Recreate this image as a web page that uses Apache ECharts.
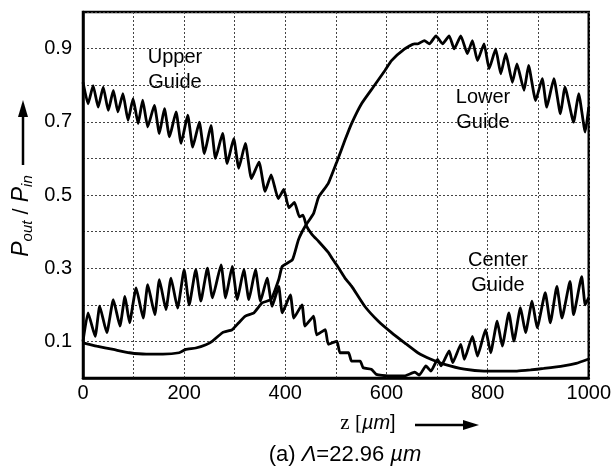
<!DOCTYPE html>
<html>
<head>
<meta charset="utf-8">
<script src="https://cdn.jsdelivr.net/npm/echarts@6/dist/echarts.min.js"></script>
<style>
  html, body { margin: 0; padding: 0; background: #fff; }
  #myChart { width: 614px; height: 468px; }
</style>
</head>
<body>
<div id="myChart"></div>
<script>
// values: z in um, P_out/P_in
const upperZ = [0, 10, 20, 30, 40, 50, 60, 69, 79, 89, 99, 109, 118, 128, 141, 151, 161, 171, 184, 194,
  207, 217, 230, 240, 253, 262, 276, 285, 298, 308, 321, 333, 348, 360, 372, 386, 397, 407, 418, 428,
  435, 442, 453, 466, 485, 492, 502, 518, 531, 557, 584, 610, 636, 662, 688, 715, 754, 793, 858, 885,
  911, 950, 975, 1000];
const upperP = [0.808, 0.749, 0.799, 0.740, 0.795, 0.731, 0.786, 0.727, 0.777, 0.704, 0.763, 0.695, 0.759, 0.686, 0.745, 0.668, 0.736, 0.659, 0.727, 0.641,
  0.718, 0.631, 0.699, 0.613, 0.690, 0.600, 0.668, 0.586, 0.654, 0.573, 0.641, 0.545, 0.590, 0.510, 0.555, 0.490, 0.515, 0.465, 0.480, 0.440,
  0.445, 0.415, 0.392, 0.373, 0.343, 0.328, 0.308, 0.273, 0.251, 0.196, 0.155, 0.124, 0.096, 0.069, 0.051, 0.037, 0.024, 0.019, 0.019, 0.022,
  0.026, 0.033, 0.040, 0.052];

const lowerZ = [0, 27, 60, 92, 125, 158, 190, 203, 223, 243, 256, 276, 295, 308, 321, 338, 354, 372, 387, 394,
  414, 426, 439, 456, 466, 485, 502, 518, 531, 551, 574, 597, 610, 636, 655, 662, 675, 685, 698, 711,
  724, 734, 747, 760, 770, 780, 793, 803, 816, 826, 836, 849, 858, 872, 881, 895, 908, 917, 931, 944,
  953, 970, 980, 993, 1000];
const lowerP = [0.096, 0.087, 0.078, 0.069, 0.065, 0.065, 0.069, 0.078, 0.082, 0.091, 0.101, 0.124, 0.132, 0.151, 0.169, 0.178, 0.205, 0.215, 0.269, 0.305,
  0.323, 0.378, 0.414, 0.450, 0.495, 0.532, 0.591, 0.650, 0.695, 0.750, 0.795, 0.840, 0.867, 0.899, 0.913, 0.913, 0.922, 0.913, 0.935, 0.913,
  0.935, 0.899, 0.935, 0.886, 0.922, 0.867, 0.913, 0.845, 0.899, 0.831, 0.886, 0.808, 0.858, 0.786, 0.854, 0.758, 0.818, 0.740, 0.818, 0.722,
  0.795, 0.699, 0.777, 0.672, 0.740];

const centerZ = [0, 10, 24, 33, 47, 60, 73, 83, 92, 105, 119, 128, 142, 151, 164, 174, 187, 200, 210, 223,
  233, 246, 256, 273, 282, 295, 305, 318, 328, 341, 351, 364, 374, 387, 394, 410, 417, 433, 439, 456,
  462, 479, 485, 502, 508, 525, 531, 548, 554, 570, 580, 603, 636, 656, 665, 678, 688, 701, 708, 724,
  731, 747, 754, 770, 780, 796, 806, 819, 829, 842, 852, 865, 875, 888, 898, 914, 924, 937, 947, 963,
  970, 986, 993, 1000];
const centerP = [0.100, 0.178, 0.114, 0.196, 0.124, 0.214, 0.142, 0.223, 0.151, 0.246, 0.164, 0.255, 0.173, 0.269, 0.187, 0.273, 0.191, 0.296, 0.200, 0.296,
  0.210, 0.300, 0.219, 0.309, 0.219, 0.305, 0.214, 0.296, 0.214, 0.296, 0.210, 0.273, 0.196, 0.250, 0.178, 0.227, 0.164, 0.200, 0.142, 0.169,
  0.118, 0.132, 0.092, 0.101, 0.069, 0.069, 0.046, 0.046, 0.028, 0.024, 0.010, 0.006, 0.006, 0.016, 0.008, 0.033, 0.019, 0.051, 0.033, 0.074,
  0.042, 0.092, 0.051, 0.114, 0.060, 0.132, 0.069, 0.155, 0.087, 0.178, 0.101, 0.192, 0.124, 0.210, 0.137, 0.233, 0.151, 0.250, 0.164, 0.264,
  0.173, 0.277, 0.200, 0.220];

const xTicks = [0, 200, 400, 600, 800, 1000];
const yTicks = [0.1, 0.3, 0.5, 0.7, 0.9];

const font = "'Liberation Sans', Arial, sans-serif";

var myChart = echarts.init(document.getElementById("myChart"), null, { renderer: "canvas" });

const zip = (zs, ps) => zs.map((z, i) => [z, ps[i]]);

const makeLine = (zs, ps) => ({
  type: "line",
  data: zip(zs, ps),
  showSymbol: false,
  silent: true,
  smooth: 0.15,
  lineStyle: { color: "#000", width: 2.8 },
});

const gridLine = { show: true, lineStyle: { color: "#444", width: 1, type: [2, 2] } };

myChart.setOption({
  animation: false,
  backgroundColor: "#fff",
  grid: { left: 83, right: 22, top: 12, bottom: 90, show: true, borderColor: "#000", borderWidth: 2.5 },
  xAxis: {
    type: "value",
    min: 0,
    max: 1000,
    interval: 100,
    axisLine: { show: true, lineStyle: { color: "#000", width: 2.5 } },
    axisTick: { show: false },
    splitLine: gridLine,
    axisLabel: {
      margin: 5,
      color: "#000",
      fontFamily: font,
      fontSize: 20,
      formatter: (v) => (xTicks.includes(v) ? String(v) : ""),
    },
  },
  yAxis: {
    type: "value",
    min: 0,
    max: 1,
    interval: 0.1,
    axisLine: { show: true, lineStyle: { color: "#000", width: 2.5 } },
    axisTick: { show: false },
    splitLine: gridLine,
    axisLabel: {
      margin: 11,
      color: "#000",
      fontFamily: font,
      fontSize: 20,
      formatter: (v) => (yTicks.some((t) => Math.abs(t - v) < 1e-6) ? v.toFixed(1) : ""),
    },
  },
  series: [
    makeLine(upperZ, upperP),
    makeLine(lowerZ, lowerP),
    makeLine(centerZ, centerP),
  ],
  graphic: [
    { type: "text", x: 175, y: 70, style: { text: "Upper\nGuide", font: "20px " + font, fill: "#000", align: "center", verticalAlign: "middle", lineHeight: 25 } },
    { type: "text", x: 483, y: 110, style: { text: "Lower\nGuide", font: "20px " + font, fill: "#000", align: "center", verticalAlign: "middle", lineHeight: 25 } },
    { type: "text", x: 498, y: 273, style: { text: "Center\nGuide", font: "20px " + font, fill: "#000", align: "center", verticalAlign: "middle", lineHeight: 25 } },
    // y axis title with arrow
    {
      type: "text",
      x: 22,
      y: 216,
      rotation: Math.PI / 2,
      style: {
        text: "{p|P}{s|out}{r| / }{p|P}{s|in}",
        align: "center",
        verticalAlign: "middle",
        rich: {
          p: { fontFamily: font, fontSize: 23, fontStyle: "italic", lineHeight: 26, fill: "#000" },
          r: { fontFamily: font, fontSize: 22, lineHeight: 26, fill: "#000" },
          s: { fontFamily: font, fontSize: 15, fontStyle: "italic", lineHeight: 8, verticalAlign: "bottom", fill: "#000" },
        },
      },
    },
    { type: "line", shape: { x1: 23, y1: 165, x2: 23, y2: 112 }, style: { stroke: "#000", lineWidth: 2.5 } },
    { type: "polygon", shape: { points: [[18, 117], [28, 117], [23, 100]] }, style: { fill: "#000" } },
    // x axis title with arrow
    {
      type: "text",
      x: 368,
      y: 423,
      style: {
        text: "{z|z [}{u|\u00b5m}{a|]}",
        align: "center",
        verticalAlign: "middle",
        rich: {
          z: { fontFamily: "'Liberation Serif', 'Times New Roman', serif", fontSize: 21, fill: "#000" },
          u: { fontFamily: font, fontSize: 20, fontStyle: "italic", fill: "#000" },
          a: { fontFamily: font, fontSize: 20, fill: "#000" },
        },
      },
    },
    { type: "line", shape: { x1: 415, y1: 425, x2: 466, y2: 425 }, style: { stroke: "#000", lineWidth: 2.5 } },
    { type: "polygon", shape: { points: [[463, 420], [463, 430], [479, 425]] }, style: { fill: "#000" } },
    // caption
    {
      type: "text",
      x: 345,
      y: 455,
      style: {
        text: "{a|(a) }{i|\u039b}{a|=22.96 }{i|\u00b5m}",
        align: "center",
        verticalAlign: "middle",
        rich: {
          a: { fontFamily: font, fontSize: 22, fill: "#000" },
          i: { fontFamily: font, fontSize: 22, fontStyle: "italic", fill: "#000" },
        },
      },
    },
  ],
});
</script>
</body>
</html>
